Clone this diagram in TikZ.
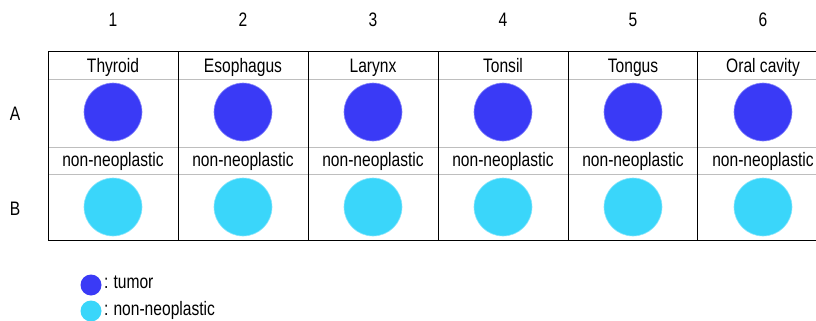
\documentclass[tikz,border=0pt]{standalone}
\usepackage{fontspec}
\setmainfont[FakeStretch=0.8]{Liberation Sans}
\definecolor{tumorc}{RGB}{58,58,246}
\definecolor{normc}{RGB}{58,214,250}
\definecolor{gridgray}{RGB}{190,190,190}
\begin{document}
\begin{tikzpicture}[x=1pt,y=-1pt,
  lbl/.style={font=\fontsize{19.5}{20}\selectfont, inner sep=0pt, anchor=base},
  dot/.style={circle, minimum size=58pt, inner sep=0pt, draw=#1!60!white, line width=0.6pt, fill=#1},
  ldot/.style={circle, minimum size=21pt, inner sep=0pt, fill=#1},
  ]
\useasboundingbox (0,0) rectangle (816,321);
\fill[white] (0,0) rectangle (816,321);
% grid
\draw[gridgray, line width=0.8pt] (48,79) -- (816,79) (48,147) -- (816,147) (48,174) -- (816,174);
\draw[black, line width=1pt] (816,52) -- (48,52) -- (48,240) -- (816,240);
\foreach \x in {178,308,438,568,697} \draw[black, line width=1pt] (\x,52) -- (\x,240);
% column numbers and contents
\foreach \i/\name in {1/Thyroid,2/Esophagus,3/Larynx,4/Tonsil,5/Tongus,6/Oral cavity}{
  \pgfmathsetmacro{\cx}{113+130*(\i-1)}
  \node[lbl] (num\i) at (\cx,27) {\i};
  \node[lbl] (h\i) at (\cx,72) {\name};
  \node[dot=tumorc] (a\i) at (\cx,112) {};
  \node[lbl] (n\i) at (\cx,166.5) {non-neoplastic};
  \node[dot=normc] (b\i) at (\cx,207) {};
}
\node[lbl] (rowA) at (15,120) {A};
\node[lbl] (rowB) at (15,215) {B};
% legend
\node[ldot=tumorc] (leg1) at (91,285) {};
\node[lbl, anchor=base west] (leg1t) at (104,288) {:\hspace{5pt}tumor};
\node[ldot=normc] (leg2) at (91,311) {};
\node[lbl, anchor=base west] (leg2t) at (104,315) {:\hspace{5pt}non-neoplastic};
\end{tikzpicture}
\end{document}
